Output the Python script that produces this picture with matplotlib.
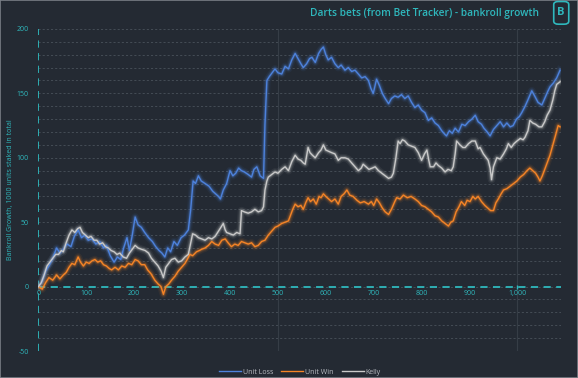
import matplotlib
matplotlib.use("Agg")
import matplotlib.pyplot as plt
from matplotlib.patches import FancyBboxPatch

# ---------------- data ----------------
loss_n = [0,8,15,22,30,38,45,52,60,68,75,83,90,97,104,112,120,128,136,142,150,158,165,172,178,185,190,196,202,208,215,222,230,238,245,252,258,264,270,276,283,290,298,305,313,318,323,328,334,340,348,356,364,370,376,380,386,393,400,406,412,418,424,430,438,445,450,456,463,470,473,477,482,488,494,500,508,515,522,529,536,542,548,553,560,566,571,578,585,590,595,600,605,612,619,626,632,640,647,654,661,668,675,682,689,694,699,706,712,718,724,731,737,744,751,758,765,772,779,786,793,800,807,814,821,828,835,842,849,852,858,864,870,877,884,891,898,905,912,918,925,930,937,943,950,957,964,971,978,985,991,998,1004,1009,1016,1022,1030,1036,1043,1051,1058,1064,1068,1075,1082,1089]
loss_v = [0,4,12,16,22,30,26,29,33,31,39,44,38,40,36,37,33,35,30,32,24,19,23,21,30,38,28,40,54,48,46,42,38,35,31,28,26,23,30,27,35,32,38,40,44,60,82,80,86,82,80,78,74,72,70,68,75,80,90,86,88,92,90,89,87,85,91,93,86,84,126,160,163,166,169,166,165,171,169,176,181,177,173,170,173,177,178,174,181,184,186,180,176,178,173,170,172,168,170,167,168,165,162,163,160,154,150,161,156,150,146,142,146,148,147,149,146,148,143,139,141,137,135,129,131,127,125,121,118,117,121,119,123,120,126,125,128,130,133,128,126,123,120,117,122,125,128,124,127,124,125,130,132,135,140,145,152,148,143,141,147,152,155,158,162,168]

win_n = [0,8,15,22,30,38,45,52,58,64,70,76,83,88,94,100,106,112,118,124,130,136,142,148,153,160,167,174,181,188,195,202,208,215,222,228,235,243,250,256,261,266,272,278,285,292,299,306,312,316,322,330,336,341,348,355,362,369,376,383,390,396,403,410,417,424,431,438,445,452,459,466,473,480,487,494,500,508,515,522,527,531,536,542,548,553,558,563,568,574,580,586,590,595,600,606,612,619,626,632,638,644,650,657,665,672,680,689,695,700,706,712,718,724,731,737,744,748,755,762,770,778,786,793,800,807,814,821,828,835,842,849,856,861,866,872,878,883,890,895,901,907,912,918,925,932,938,944,950,955,960,966,971,978,985,992,999,1006,1013,1020,1026,1032,1038,1043,1047,1052,1058,1063,1068,1074,1080,1085,1089]
win_v = [0,-2,3,7,5,9,6,9,11,15,18,17,23,19,16,19,18,20,21,19,20,17,16,14,13,15,13,16,15,18,17,21,20,17,17,13,10,5,2,0,-6,0,2,5,8,12,15,18,22,25,24,27,28,29,30,32,35,33,32,36,37,34,31,33,32,35,34,33,34,31,32,35,36,40,43,46,47,49,50,51,56,60,64,62,63,60,65,69,66,68,64,70,69,72,70,68,66,68,64,70,72,75,71,70,67,65,66,64,66,63,68,65,61,58,56,60,66,69,68,71,69,70,68,66,63,62,60,58,55,54,51,49,47,50,51,58,62,66,63,67,66,70,68,70,66,63,61,59,59,65,68,72,75,76,78,80,82,85,87,90,92,90,88,85,82,86,92,97,102,110,118,125,124]

kelly_n = [0,6,12,18,24,30,36,42,48,52,58,64,70,76,82,87,92,98,104,110,116,122,128,134,140,146,152,158,164,170,177,184,190,196,202,208,215,223,230,236,243,250,256,261,266,272,278,285,292,299,306,313,318,322,328,334,341,348,355,362,369,376,381,386,390,393,400,407,414,421,424,430,438,445,452,459,466,470,473,477,480,487,494,500,508,515,522,529,536,542,548,553,557,563,567,572,578,585,590,595,600,606,612,619,626,632,640,647,654,661,668,674,678,684,690,697,703,710,717,724,731,737,741,746,751,755,760,765,772,779,786,793,800,806,811,815,818,825,830,835,842,849,855,862,866,870,873,880,886,891,898,905,912,918,922,929,935,939,943,946,950,957,964,971,977,981,987,993,999,1006,1012,1016,1022,1026,1032,1038,1045,1051,1057,1062,1068,1074,1078,1082,1089]
kelly_v = [0,3,9,16,19,22,25,25,28,27,34,40,44,42,45,46,42,40,38,39,36,36,33,34,31,30,28,27,25,26,23,22,26,29,32,30,29,28,26,22,19,16,12,7,15,18,21,22,19,20,23,25,34,41,40,38,37,36,38,37,39,43,46,49,44,42,41,40,42,41,59,58,57,58,60,58,59,62,75,82,85,87,89,88,91,93,90,97,102,99,98,96,95,108,104,102,100,104,106,110,106,105,104,103,98,100,100,99,96,93,90,92,95,93,91,92,93,90,88,86,84,85,88,99,113,111,114,113,110,109,108,104,98,103,106,98,93,93,96,94,92,89,91,90,93,103,113,110,108,108,111,113,113,107,108,103,100,98,92,83,93,100,99,103,107,111,108,111,113,115,114,116,121,129,127,126,124,124,128,133,137,145,152,157,159]

series_names = ["Unit Loss", "Unit Win", "Kelly"]
x_ticks = [100, 200, 300, 400, 500, 600, 700, 800, 900, 1000]
x_tick_labels = ["100", "200", "300", "400", "500", "600", "700", "800", "900", "1,000"]
y_ticks = [-50, 0, 50, 100, 150, 200]
title = "Darts bets (from Bet Tracker) - bankroll growth"
y_label = "Bankroll Growth, 1000 units staked in total"

# ---------------- style ----------------
BG = "#242a33"
TEAL = "#2fb8bd"
GRID = "#4a525b"
colors = ["#4d82dc", "#f58426", "#c9c9c9"]

plt.rcParams['font.family'] = ['Open Sans', 'DejaVu Sans']

fig = plt.figure(figsize=(5.78, 3.78), dpi=100, facecolor=BG)
fig.patches.append(plt.Rectangle((0, 0), 1, 1, transform=fig.transFigure,
                                 fill=False, edgecolor="#7a7f86", linewidth=1.2))
ax = fig.add_axes([0.0664, 0.0714, 0.9042, 0.852])
ax.set_facecolor(BG)
ax.set_xlim(0, 1091)
ax.set_ylim(-50, 200)

# grid
for yv in range(-50, 201, 10):
    ax.axhline(yv, color=GRID, linestyle=(0, (2.5, 2.5)), linewidth=0.6, zorder=1)
for xv in [500, 1000]:
    ax.axvline(xv, color="#363d46", linewidth=0.8, zorder=1)

# zero lines
ax.axhline(0, color=TEAL, linestyle=(0, (4, 3)), linewidth=1.3, zorder=2)
ax.axvline(0, color=TEAL, linestyle=(0, (4, 3)), linewidth=1.3, zorder=2)
ax.plot([1000], [0], marker="|", color=TEAL, markersize=3, zorder=3)

# series with glow
data = [(loss_n, loss_v), (win_n, win_v), (kelly_n, kelly_v)]
for (xs, ys), c, name in zip(data, colors, series_names):
    for lw, a in [(5.5, 0.07), (3.6, 0.13), (2.3, 0.22)]:
        ax.plot(xs, ys, color=c, linewidth=lw, alpha=a, solid_joinstyle="round", zorder=4)
    ax.plot(xs, ys, color=c, linewidth=1.0, label=name, zorder=5)

for s in ax.spines.values():
    s.set_visible(False)
ax.set_xticks([])
ax.set_yticks(y_ticks)
ax.set_yticklabels([str(v) for v in y_ticks], fontsize=5, color=TEAL)
ax.tick_params(axis="y", length=0, pad=7)

for xv, lab in zip(x_ticks, x_tick_labels):
    ax.text(xv, -3, lab, fontsize=5, color=TEAL, ha="center", va="top", zorder=6)
ax.text(0, -3, "0", fontsize=5, color=TEAL, ha="center", va="top", zorder=6)

ax.set_ylabel(y_label, fontsize=5, color=TEAL, labelpad=2)

# title and logo
fig.text(0.932, 0.965, title, fontsize=7.3, color=TEAL, ha="right", va="center", fontweight="semibold")
logo = FancyBboxPatch((0.960, 0.938), 0.022, 0.056, boxstyle="round,pad=0.002,rounding_size=0.008",
                      transform=fig.transFigure, fill=False, edgecolor=TEAL, linewidth=1.2)
fig.patches.append(logo)
fig.text(0.971, 0.966, "B", fontsize=8, color=TEAL, ha="center", va="center", fontweight="bold")

leg = ax.legend(loc="upper center", bbox_to_anchor=(0.5, -0.035), ncol=3, frameon=False,
                fontsize=5, handlelength=3.2, handletextpad=0.2, columnspacing=1.2)
for t in leg.get_texts():
    t.set_color("#b8bcc2")

fig.savefig("out.png", dpi=100, facecolor=BG)
